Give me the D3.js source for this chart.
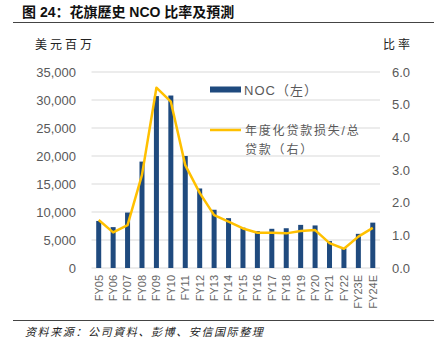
<!DOCTYPE html>
<html>
<head>
<meta charset="utf-8">
<script src="https://d3js.org/d3.v7.min.js"></script>
<style>
  body { margin: 0; background: #fff; }
  svg text { font-family: "Liberation Sans", Arial, "Noto Sans CJK SC", sans-serif; }
</style>
</head>
<body>
<div id="chart"></div>
<script>
// data
var years = ["FY05","FY06","FY07","FY08","FY09","FY10","FY11","FY12","FY13","FY14",
             "FY15","FY16","FY17","FY18","FY19","FY20","FY21","FY22","FY23E","FY24E"];
var nco = [8400, 7300, 9900, 19000, 30700, 30800, 20000, 14200, 10400, 8900,
           7200, 6600, 7000, 7100, 7700, 7600, 4800, 3500, 6100, 8100];
var ratio = [1.47, 1.09, 1.31, 2.85, 5.52, 5.09, 3.15, 2.30, 1.62, 1.42,
             1.21, 1.08, 1.08, 1.06, 1.13, 1.16, 0.76, 0.59, 0.96, 1.23];
var leftTicks = [0, 5000, 10000, 15000, 20000, 25000, 30000, 35000];
var rightTicks = [0, 1, 2, 3, 4, 5, 6];

var W = 434, H = 352;
var plot = {left: 91.5, right: 380, top: 72, bottom: 268};

var svg = d3.select("#chart").append("svg")
    .attr("width", W)
    .attr("height", H);

// header
svg.append("text")
    .attr("x", 22).attr("y", 17)
    .attr("font-size", "14px")
    .attr("font-weight", "bold")
    .attr("fill", "#111")
    .text("图 24：花旗歷史 NCO 比率及預測");
svg.append("line")
    .attr("x1", 13).attr("x2", W).attr("y1", 22.5).attr("y2", 22.5)
    .attr("stroke", "#444").attr("stroke-width", 1.2);

svg.append("text")
    .attr("x", 35).attr("y", 49)
    .attr("font-size", "12px").attr("fill", "#222")
    .attr("letter-spacing", "3px")
    .text("美元百万");
svg.append("text")
    .attr("x", 383).attr("y", 49)
    .attr("font-size", "12px").attr("fill", "#222")
    .attr("letter-spacing", "3px")
    .text("比率");

// scales
var x = d3.scaleBand().domain(years).range([plot.left, plot.right]);
var yL = d3.scaleLinear().domain([0, 35000]).range([plot.bottom, plot.top]);
var yR = d3.scaleLinear().domain([0, 6]).range([plot.bottom, plot.top]);

// gridlines
svg.append("g").selectAll("line")
  .data(leftTicks)
  .join("line")
    .attr("x1", plot.left).attr("x2", plot.right)
    .attr("y1", function(d){ return yL(d); })
    .attr("y2", function(d){ return yL(d); })
    .attr("stroke", "#d9d9d9").attr("stroke-width", 1);

// left axis
var axL = svg.append("g")
    .attr("transform", "translate(76,0)")
    .call(d3.axisLeft(yL).tickValues(leftTicks).tickSize(0).tickPadding(0)
      .tickFormat(d3.format(",")));
axL.select(".domain").remove();
axL.selectAll("text").attr("font-size", "13px").attr("fill", "#595959");

// right axis
var axR = svg.append("g")
    .attr("transform", "translate(392,0)")
    .call(d3.axisRight(yR).tickValues(rightTicks).tickSize(0).tickPadding(0)
      .tickFormat(d3.format(".1f")));
axR.select(".domain").remove();
axR.selectAll("text").attr("font-size", "13px").attr("fill", "#595959");

// bars
var bw = 5;
svg.append("g").selectAll("rect")
  .data(nco)
  .join("rect")
    .attr("x", function(d, i){ return x(years[i]) + x.bandwidth()/2 - bw/2; })
    .attr("y", function(d){ return yL(d); })
    .attr("width", bw)
    .attr("height", function(d){ return plot.bottom - yL(d); })
    .attr("fill", "#1f4a7e");

// line
svg.append("path")
    .datum(ratio)
    .attr("fill", "none")
    .attr("stroke", "#ffc000")
    .attr("stroke-width", 2.5)
    .attr("stroke-linejoin", "round")
    .attr("d", d3.line()
      .x(function(d, i){ return x(years[i]) + x.bandwidth()/2; })
      .y(function(d){ return yR(d); }));

// x labels
var axX = svg.append("g")
    .attr("transform", "translate(0," + plot.bottom + ")")
    .call(d3.axisBottom(x).tickSize(0).tickPadding(0));
axX.select(".domain").remove();
axX.selectAll("text")
    .attr("font-size", "11px")
    .attr("fill", "#666")
    .attr("text-anchor", "end")
    .attr("transform", "rotate(-90)")
    .attr("x", -7)
    .attr("y", 0)
    .attr("dy", "0.35em");

// legend
svg.append("rect")
    .attr("x", 210).attr("y", 86.5).attr("width", 31).attr("height", 6)
    .attr("fill", "#1f4a7e");
svg.append("text")
    .attr("x", 244).attr("y", 94.5)
    .attr("font-size", "13px").attr("fill", "#595959")
    .attr("letter-spacing", "1px")
    .text("NOC（左）");
svg.append("line")
    .attr("x1", 210).attr("x2", 241).attr("y1", 130).attr("y2", 130)
    .attr("stroke", "#ffc000").attr("stroke-width", 2.5);
svg.append("text")
    .attr("x", 245).attr("y", 135)
    .attr("font-size", "12px").attr("fill", "#595959")
    .attr("letter-spacing", "1.8px")
    .text("年度化贷款损失/总");
svg.append("text")
    .attr("x", 245).attr("y", 154)
    .attr("font-size", "12px").attr("fill", "#595959")
    .attr("letter-spacing", "1.8px")
    .text("贷款（右）");

// footer
svg.append("line")
    .attr("x1", 13).attr("x2", W).attr("y1", 320.5).attr("y2", 320.5)
    .attr("stroke", "#444").attr("stroke-width", 1.2);
svg.append("text")
    .attr("x", 25).attr("y", 336)
    .attr("font-size", "11px")
    .attr("font-style", "italic")
    .attr("fill", "#222")
    .attr("letter-spacing", "1.6px")
    .text("资料来源：公司資料、彭博、安信国际整理");
</script>
</body>
</html>
